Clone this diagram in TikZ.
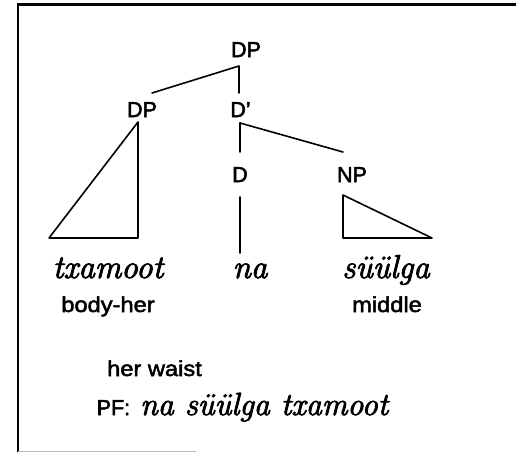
\documentclass[tikz,border=0pt]{standalone}
\usepackage{fontspec}
\newfontfamily\labfont[FakeBold=2.6]{Liberation Sans}
\newfontfamily\glossfont[FakeStretch=1.1,FakeBold=2.3]{Liberation Sans}
\newfontfamily\wordfont[FakeBold=2.6]{Latin Modern Roman}
\begin{document}
\begin{tikzpicture}[x=1pt,y=-1pt,
  cat/.style={font=\labfont\fontsize{21.5}{24}\selectfont, anchor=base, inner sep=0pt},
  word/.style={font=\wordfont\itshape\fontsize{33}{37}\selectfont, anchor=base, inner sep=0pt},
  gloss/.style={font=\glossfont\fontsize{21.5}{24}\selectfont, anchor=base, inner sep=0pt},
  branch/.style={line width=1.6pt, line cap=round, line join=round},
  frame/.style={line width=2.4pt}]
\useasboundingbox (0,0) rectangle (516,453);

% frame
\draw[frame] (18,452) -- (18,4.5) -- (516,4.5);
\draw[gray!55, line width=1.1pt] (18,451.5) -- (196,451.5);

% category labels
\node[cat] (dptop) at (246,57) {DP};
\node[cat] (dpleft) at (142,117) {DP};
\node[cat] (dbar) at (240.5,117) {D’};
\node[cat] (d) at (240,182) {D};
\node[cat] (np) at (352,182) {NP};

% branch points
\coordinate (dptop-b) at (239,66);
\coordinate (dpleft-t) at (152,93);
\coordinate (dbar-t) at (239,93);
\coordinate (dbar-b) at (240,123);
\coordinate (d-t) at (240,152);
\coordinate (np-t) at (343,152);
\coordinate (d-b) at (240,197);
\coordinate (na-t) at (240,253);

% triangles
\coordinate (tri1-top) at (138,122);
\coordinate (tri1-bl) at (49,238);
\coordinate (tri1-br) at (138,238);
\coordinate (tri2-top) at (343,195);
\coordinate (tri2-bl) at (343,238);
\coordinate (tri2-br) at (432,238);

\draw[branch] (dpleft-t) -- (dptop-b) -- (dbar-t);
\draw[branch] (dbar-b) -- (d-t);
\draw[branch] (dbar-b) -- (np-t);
\draw[branch] (d-b) -- (na-t);
\draw[branch] (tri1-top) -- (tri1-bl) -- (tri1-br) -- cycle;
\draw[branch] (tri2-top) -- (tri2-bl) -- (tri2-br) -- cycle;

% words and glosses
\node[word] (txamoot) at (108,278) {txamoot};
\node[word] (na) at (250,278) {na};
\node[word] (suulga) at (386,278) {süülga};
\node[gloss] (bodyher) at (108,312) {body-her};
\node[gloss] (middle) at (387,312) {middle};

\node[gloss] (herwaist) at (154.5,376) {her waist};
\node[anchor=base west, inner sep=0pt] (pf) at (96.5,415)
  {{\labfont\fontsize{21.5}{24}\selectfont PF:}\hspace{10pt}{\wordfont\itshape\fontsize{32}{36}\selectfont na süülga txamoot}};
\end{tikzpicture}
\end{document}
